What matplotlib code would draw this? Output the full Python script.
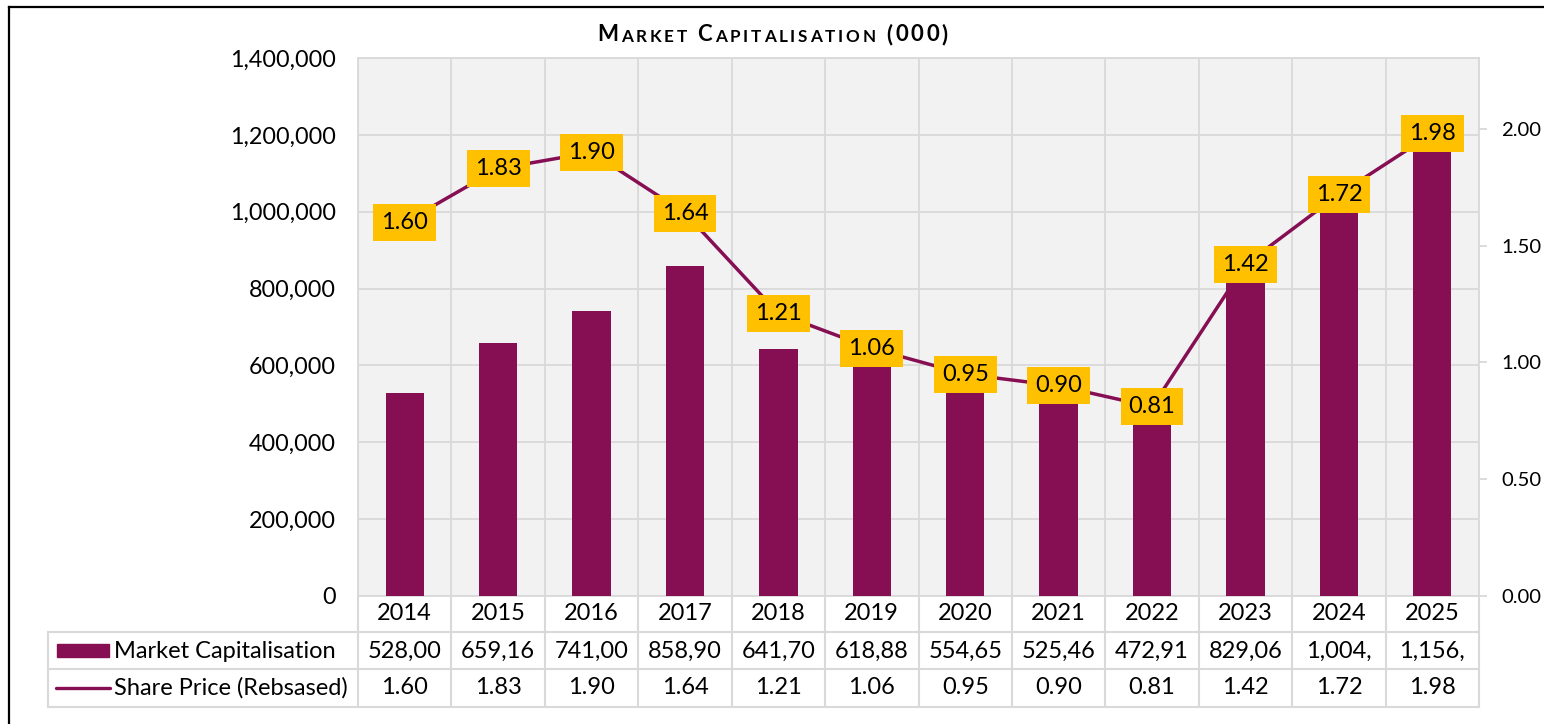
import numpy as np
import matplotlib.pyplot as plt
import matplotlib.transforms as mtransforms
from matplotlib.patches import Rectangle
from matplotlib.lines import Line2D

plt.rcParams['font.family'] = ['Lato', 'DejaVu Sans']

# data
years = ['2014', '2015', '2016', '2017', '2018', '2019', '2020', '2021', '2022', '2023', '2024', '2025']
market_cap = [528000, 659160, 741000, 858900, 641700, 618880, 554650, 525460, 472910, 829060, 1004000, 1156000]
share_price = [1.60, 1.83, 1.90, 1.64, 1.21, 1.06, 0.95, 0.90, 0.81, 1.42, 1.72, 1.98]
left_ticks = [0, 200000, 400000, 600000, 800000, 1000000, 1200000, 1400000]
right_ticks = [0.0, 0.5, 1.0, 1.5, 2.0]
series_names = ['Market Capitalisation', 'Share Price (Rebsased)']
title = 'Market Capitalisation (000)'

purple = '#860F54'
gold = '#FFC000'
grid = '#D9D9D9'

W, H = 1544, 724
fig = plt.figure(figsize=(W / 100, H / 100), dpi=100)
L, R, T, B = 358, 1479, 58, 596
ax = fig.add_axes([L / W, 1 - B / H, (R - L) / W, (B - T) / H])
ax.set_facecolor('#F2F2F2')

x = np.arange(len(years))
ax.bar(x, market_cap, width=0.41, color=purple, zorder=3)
ax.set_xlim(-0.5, len(years) - 0.5)
ax.set_ylim(0, 1400000)
ax.set_yticks(left_ticks)
ax.set_yticklabels([f'{v:,}' for v in left_ticks], fontsize=16.8)
ax.tick_params(axis='y', length=0, pad=16)
ax.set_xticks([])
ax.set_xticks(np.arange(-0.5, len(years), 1), minor=True)
ax.tick_params(axis='x', which='minor', length=0)
ax.grid(axis='y', color=grid, lw=1.3, zorder=0)
ax.grid(axis='x', which='minor', color=grid, lw=1.3, zorder=0)
for s in ax.spines.values():
    s.set_color(grid)
    s.set_linewidth(1.3)

ax2 = ax.twinx()
ax2.set_ylim(0, 2.304)
ax2.set_yticks(right_ticks)
ax2.set_yticklabels([f'{v:.2f}' for v in right_ticks], fontsize=14.6)
ax2.tick_params(axis='y', length=6, color=grid, width=1.3, pad=10)
for s in ax2.spines.values():
    s.set_visible(False)
ax2.plot(x, share_price, color=purple, lw=2.5, zorder=3)
for xi, v in zip(x, share_price):
    ax2.text(xi, v, f'{v:.2f}', ha='center', va='center', fontsize=17, zorder=4,
             bbox=dict(boxstyle='square,pad=0.34', fc=gold, ec='none'))

# data table under the chart
def fy(py):
    return 1 - py / H

tr = mtransforms.blended_transform_factory(ax.transData, fig.transFigure)
tra = mtransforms.blended_transform_factory(ax.transAxes, fig.transFigure)
legend_left = (48 - L) / (R - L)
rows = [632, 669, 707]
for ry in rows:
    fig.add_artist(Line2D([legend_left, 1], [fy(ry), fy(ry)], transform=tra, color=grid, lw=1.5))
for b in np.arange(-0.5, len(years), 1):
    fig.add_artist(Line2D([b, b], [fy(B), fy(rows[-1])], transform=tr, color=grid, lw=1.5))
fig.add_artist(Line2D([legend_left, legend_left], [fy(rows[0]), fy(rows[-1])], transform=tra, color=grid, lw=1.5))

for xi, yr, mc, sp in zip(x, years, market_cap, share_price):
    fig.text(xi, fy(614), yr, transform=tr, ha='center', va='center', fontsize=17)
    fig.text(xi, fy(651), f'{mc:,}'[:6], transform=tr, ha='center', va='center', fontsize=17)
    fig.text(xi, fy(688), f'{sp:.2f}', transform=tr, ha='center', va='center', fontsize=17)

fig.add_artist(Rectangle((57 / W, fy(657)), 52 / W, 13 / H, transform=fig.transFigure, color=purple))
fig.add_artist(Line2D([56 / W, 110 / W], [fy(688), fy(688)], transform=fig.transFigure, color=purple, lw=2.4,
                      solid_capstyle='round'))
fig.text(114 / W, fy(651), series_names[0], ha='left', va='center', fontsize=17)
fig.text(114 / W, fy(688), series_names[1], ha='left', va='center', fontsize=17)

# title in small caps with letter spacing
prev = None
for ch in title:
    big = ch.isupper() or not ch.isalpha()
    fs = 16 if big else 12.3
    if prev is None:
        prev = ax.annotate(ch.upper(), xy=(597 / W, fy(41)), xycoords='figure fraction', ha='left',
                           va='baseline', fontsize=fs, fontweight='bold', annotation_clip=False)
    else:
        prev = ax.annotate(ch.upper(), xy=(1, 0), xycoords=prev, xytext=(2.0, 0), textcoords='offset points',
                           ha='left', va='bottom', fontsize=fs, fontweight='bold', annotation_clip=False)

# outer frame
fig.add_artist(Line2D([9 / W, 9 / W], [fy(7), 0], transform=fig.transFigure, color='black', lw=1.6))
fig.add_artist(Line2D([9 / W, 1], [fy(7), fy(7)], transform=fig.transFigure, color='black', lw=1.6))

fig.savefig('out.png', dpi=100)
